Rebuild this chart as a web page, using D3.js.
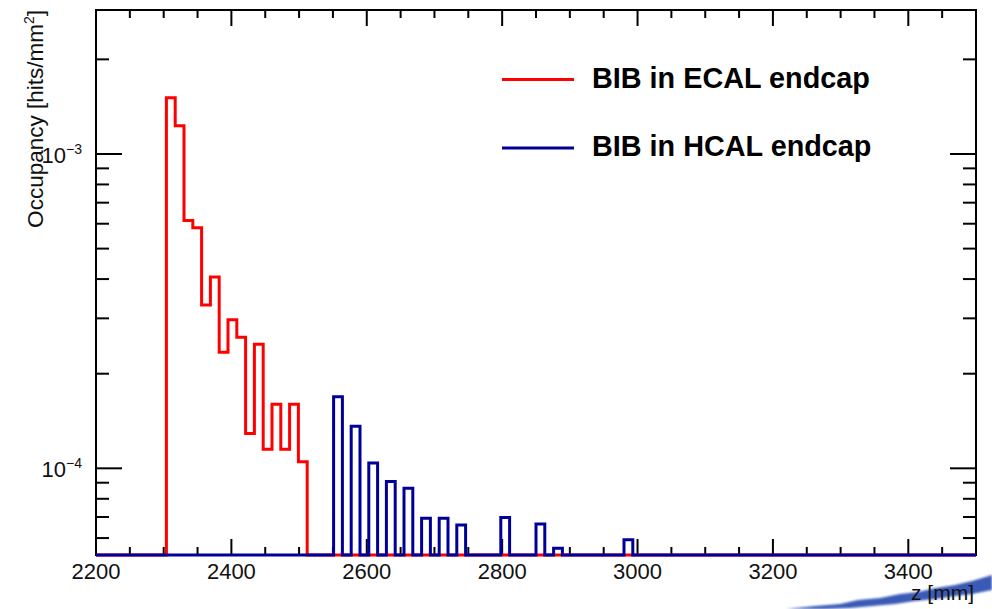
<!DOCTYPE html>
<html>
<head>
<meta charset="utf-8">
<script src="https://cdn.jsdelivr.net/npm/d3@7"></script>
<style>
  html, body { margin: 0; padding: 0; background: #fff; }
  svg { display: block; font-family: "Liberation Sans", Arial, Helvetica, sans-serif; }
</style>
</head>
<body>
<svg id="chart" width="992" height="609"></svg>
<script>
// Histogram binning: 100 bins of 13 mm across z = 2200..3500 mm
const zRange = [2200, 3500];
const binWidth = 13;

// ECAL endcap: low edge of each filled bin [mm] and its occupancy [hits/mm^2]
const ecalZ = [2304, 2317, 2330, 2343, 2356, 2369, 2382, 2395,
               2408, 2421, 2434, 2447, 2460, 2473, 2486, 2499];
const ecalOcc = [1.51e-3, 1.23e-3, 6.14e-4, 5.83e-4, 3.31e-4, 4.06e-4, 2.34e-4, 2.97e-4,
                 2.61e-4, 1.29e-4, 2.48e-4, 1.15e-4, 1.60e-4, 1.15e-4, 1.60e-4, 1.05e-4];

// HCAL endcap: low edge of each filled bin [mm] and its occupancy [hits/mm^2]
const hcalZ = [2551, 2577, 2603, 2629, 2655, 2681, 2707, 2733, 2798, 2850, 2876, 2980];
const hcalOcc = [1.69e-4, 1.36e-4, 1.04e-4, 9.08e-5, 8.65e-5, 6.94e-5, 6.94e-5, 6.60e-5,
                 6.97e-5, 6.65e-5, 5.57e-5, 5.93e-5];

// Axis ticks and labels
const xMajor = [2200, 2400, 2600, 2800, 3000, 3200, 3400];
const xMinorStep = 50;
const yMajor = [1e-4, 1e-3];
const yMajorExp = ["\u22124", "\u22123"];
const yDomain = [5.30e-5, 2.871e-3];

const legendItems = [
  { label: "BIB in ECAL endcap", color: "#ff0000" },
  { label: "BIB in HCAL endcap", color: "#000099" }
];

// ---- layout ----
const frame = { left: 96, right: 976, top: 10, bottom: 555 };
const svg = d3.select("#chart");

const x = d3.scaleLinear().domain(zRange).range([frame.left, frame.right]);
const y = d3.scaleLog().domain(yDomain).range([frame.bottom, frame.top]);

const defs = svg.append("defs");
defs.append("filter").attr("id", "soft")
  .append("feGaussianBlur").attr("stdDeviation", 0.8);
defs.append("clipPath").attr("id", "frameClip")
  .append("rect")
  .attr("x", frame.left).attr("y", frame.top - 2)
  .attr("width", frame.right - frame.left)
  .attr("height", frame.bottom - frame.top + 4);

// brush stroke under the axis title
svg.append("path")
  .attr("d", "M786,609 L815,606 L840,604 L858,600 L880,598 L900,594 L918,592 L936,588 L955,585 L972,581 L992,575 " +
             "L992,590 L972,594 L955,596 L935,599 L915,601 L895,604 L872,606 L850,608 L825,609 Z")
  .attr("fill", "#2a4db0")
  .attr("opacity", 0.92)
  .attr("filter", "url(#soft)");

// ---- frame and ticks ----
const axisG = svg.append("g").attr("stroke", "#000").attr("stroke-width", 2).attr("fill", "none");

axisG.append("rect")
  .attr("x", frame.left).attr("y", frame.top)
  .attr("width", frame.right - frame.left)
  .attr("height", frame.bottom - frame.top);

const xMinor = d3.range(zRange[0], zRange[1] + 1, xMinorStep);
xMinor.forEach(v => {
  const major = xMajor.includes(v);
  const len = major ? 16 : 8;
  const px = x(v);
  axisG.append("line").attr("x1", px).attr("x2", px)
    .attr("y1", frame.bottom).attr("y2", frame.bottom - len);
  axisG.append("line").attr("x1", px).attr("x2", px)
    .attr("y1", frame.top).attr("y2", frame.top + len);
});

y.ticks().forEach(v => {
  const major = yMajor.some(m => Math.abs(m - v) / m < 1e-6);
  const len = major ? 26 : 13;
  const py = y(v);
  axisG.append("line").attr("x1", frame.left).attr("x2", frame.left + len)
    .attr("y1", py).attr("y2", py);
  axisG.append("line").attr("x1", frame.right).attr("x2", frame.right - len)
    .attr("y1", py).attr("y2", py);
});

// tick labels
svg.append("g").selectAll("text").data(xMajor).join("text")
  .attr("x", d => x(d)).attr("y", 579)
  .attr("text-anchor", "middle")
  .attr("font-size", 22)
  .attr("fill", "#111")
  .text(d => d);

const yLab = svg.append("g").selectAll("text").data(yMajor).join("text")
  .attr("x", 82).attr("y", d => y(d) + 9)
  .attr("text-anchor", "end")
  .attr("font-size", 22)
  .attr("fill", "#111");
yLab.append("tspan").text("10");
yLab.append("tspan").attr("font-size", 14).attr("dy", -9).text((d, i) => yMajorExp[i]);

// axis titles
const yTitle = svg.append("text")
  .attr("transform", "translate(43,10) rotate(-90)")
  .attr("text-anchor", "end")
  .attr("font-size", 22.5)
  .attr("fill", "#111");
yTitle.append("tspan").text("Occupancy [hits/mm");
yTitle.append("tspan").attr("font-size", 14).attr("dy", -9).text("2");
yTitle.append("tspan").attr("dy", 9).text("]");

svg.append("text")
  .attr("x", 974).attr("y", 600)
  .attr("text-anchor", "end")
  .attr("font-size", 21)
  .attr("fill", "#111")
  .text("z [mm]");

// ---- histograms ----
// full step outline over every bin; empty bins sit on the frame floor
function stepPoints(zs, vals) {
  const lookup = new Map(zs.map((z, i) => [z, vals[i]]));
  const nBins = Math.round((zRange[1] - zRange[0]) / binWidth);
  const pts = [];
  for (let i = 0; i < nBins; i++) {
    const lo = zRange[0] + i * binWidth;
    const v = Math.max(lookup.get(lo) || 0, yDomain[0]);
    pts.push([lo, v], [lo + binWidth, v]);
  }
  return pts;
}

const line = d3.line().x(d => x(d[0])).y(d => y(d[1]));
const histG = svg.append("g").attr("clip-path", "url(#frameClip)");

histG.append("path")
  .attr("d", line(stepPoints(ecalZ, ecalOcc)))
  .attr("fill", "none")
  .attr("stroke", legendItems[0].color)
  .attr("stroke-width", 3)
  .attr("stroke-linejoin", "miter");

histG.append("path")
  .attr("d", line(stepPoints(hcalZ, hcalOcc)))
  .attr("fill", "none")
  .attr("stroke", legendItems[1].color)
  .attr("stroke-width", 3)
  .attr("stroke-linejoin", "miter");

// ---- legend ----
const legend = svg.append("g").selectAll("g").data(legendItems).join("g")
  .attr("transform", (d, i) => `translate(0,${79.5 + i * 68.4})`);
legend.append("line")
  .attr("x1", 502).attr("x2", 574)
  .attr("stroke", d => d.color).attr("stroke-width", 3);
legend.append("text")
  .attr("x", 592).attr("y", 8.5)
  .attr("font-size", 28.8)
  .attr("font-weight", "bold")
  .attr("fill", "#000")
  .text(d => d.label);
</script>
</body>
</html>
